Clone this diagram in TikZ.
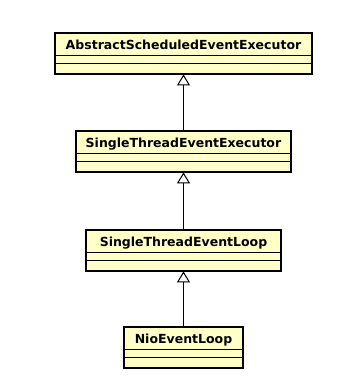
\documentclass[tikz,border=0pt]{standalone}
\usepackage{fontspec}
\setmainfont{DejaVu Sans}
\usetikzlibrary{arrows.meta,calc}
\definecolor{umlfill}{HTML}{FFFFC8}
\tikzset{
  classtitle/.style={anchor=north, minimum height=22pt, inner sep=0pt, fill=umlfill,
    text height=10.5pt, text depth=0pt,
    font=\fontsize{12.5}{14}\selectfont\bfseries},
  compartment/.style={line width=1pt},
  outline/.style={line width=2pt},
  generalization/.style={line width=1pt,
    -{Triangle[open, length=11pt, width=13pt, line width=1pt]}},
}
% #1 name, #2 centre x, #3 top y, #4 width, #5 class name
\newcommand\umlclass[5]{%
  \node[classtitle, minimum width=#4pt] (#1) at (#2pt,-#3pt) {#5};
  \coordinate (#1-bot) at ($(#1.south)+(0,-19pt)$);
  \fill[umlfill] (#1.south west) rectangle (#1-bot -| #1.east);
  \draw[compartment] (#1.south west) -- (#1.south east);
  \draw[compartment] ([yshift=-8pt]#1.south west) -- ([yshift=-8pt]#1.south east);
  \draw[outline] (#1.north west) rectangle (#1-bot -| #1.east);
}
\begin{document}
\begin{tikzpicture}
  \useasboundingbox (0,0) rectangle (357pt,-389pt);
  \fill[white] (0,0) rectangle (357pt,-389pt);
  \umlclass{ase}{183.5}{33}{257}{AbstractScheduledEventExecutor}
  \umlclass{stee}{183.5}{131}{215}{SingleThreadEventExecutor}
  \umlclass{stel}{183.5}{230}{194}{SingleThreadEventLoop}
  \umlclass{nio}{183.5}{327}{118}{NioEventLoop}
  \draw[generalization] (stee.north) -- (ase-bot);
  \draw[generalization] (stel.north) -- (stee-bot);
  \draw[generalization] (nio.north) -- (stel-bot);
\end{tikzpicture}
\end{document}
